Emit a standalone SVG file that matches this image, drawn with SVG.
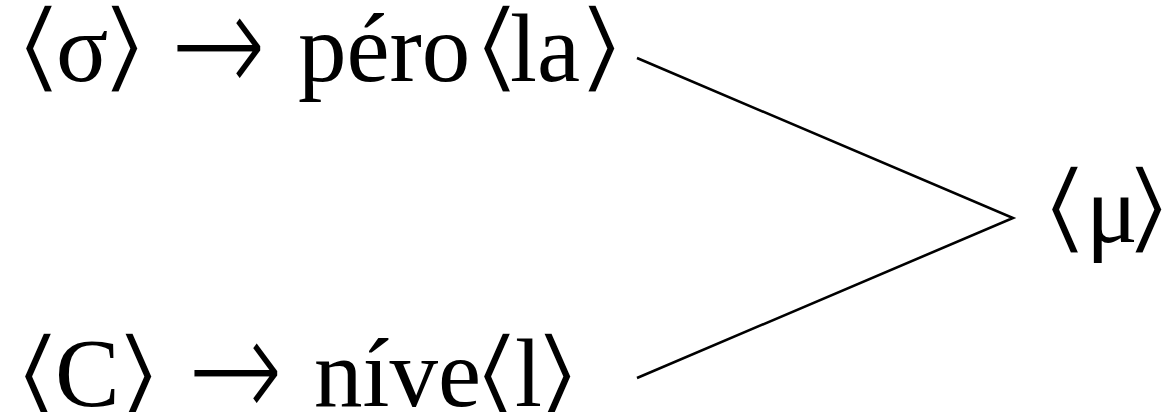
<svg xmlns="http://www.w3.org/2000/svg" width="1165" height="412" viewBox="0 0 1165 412">
<style>
.t{font-family:"Liberation Serif","DejaVu Serif",serif;font-size:97px;fill:#000}
.b{font-family:"DejaVu Serif",serif;font-size:100px;fill:#000;stroke:#fff;stroke-width:3.2}
.a{font-family:"DejaVu Sans",sans-serif;font-size:120px;fill:#000;stroke:#fff;stroke-width:5}
.c{stroke:#000;stroke-width:2.6;fill:none}
</style>
<rect width="1165" height="412" fill="#fff"/>
<g id="connectors">
<polyline class="c" points="637,58 1013,218 637,378"/>
</g>
<g id="node-top">
<text class="b" transform="translate(11,80) scale(1.42,1)">⟨</text>
<text class="t" x="56" y="81">σ</text>
<text class="b" transform="translate(97,80) scale(1.42,1)">⟩</text>
<text class="a" transform="translate(168,99) scale(1,1.35)">→</text>
<text class="t" x="298" y="81">péro</text>
<text class="b" transform="translate(469,80) scale(1.42,1)">⟨</text>
<text class="t" x="510" y="81">la</text>
<text class="b" transform="translate(574,80) scale(1.42,1)">⟩</text>
</g>
<g id="node-bottom">
<text class="b" transform="translate(10,408) scale(1.42,1)">⟨</text>
<text class="t" x="55" y="406">C</text>
<text class="b" transform="translate(111,408) scale(1.42,1)">⟩</text>
<text class="a" transform="translate(185,424) scale(1,1.35)">→</text>
<text class="t" x="314" y="406">níve</text>
<text class="b" transform="translate(469,408) scale(1.42,1)">⟨</text>
<text class="t" x="515" y="406">l</text>
<text class="b" transform="translate(530,408) scale(1.42,1)">⟩</text>
</g>
<g id="node-mu">
<text class="b" transform="translate(1037,241) scale(1.42,1)">⟨</text>
<text class="t" x="1086" y="242">μ</text>
<text class="b" transform="translate(1121,241) scale(1.42,1)">⟩</text>
</g>
</svg>
